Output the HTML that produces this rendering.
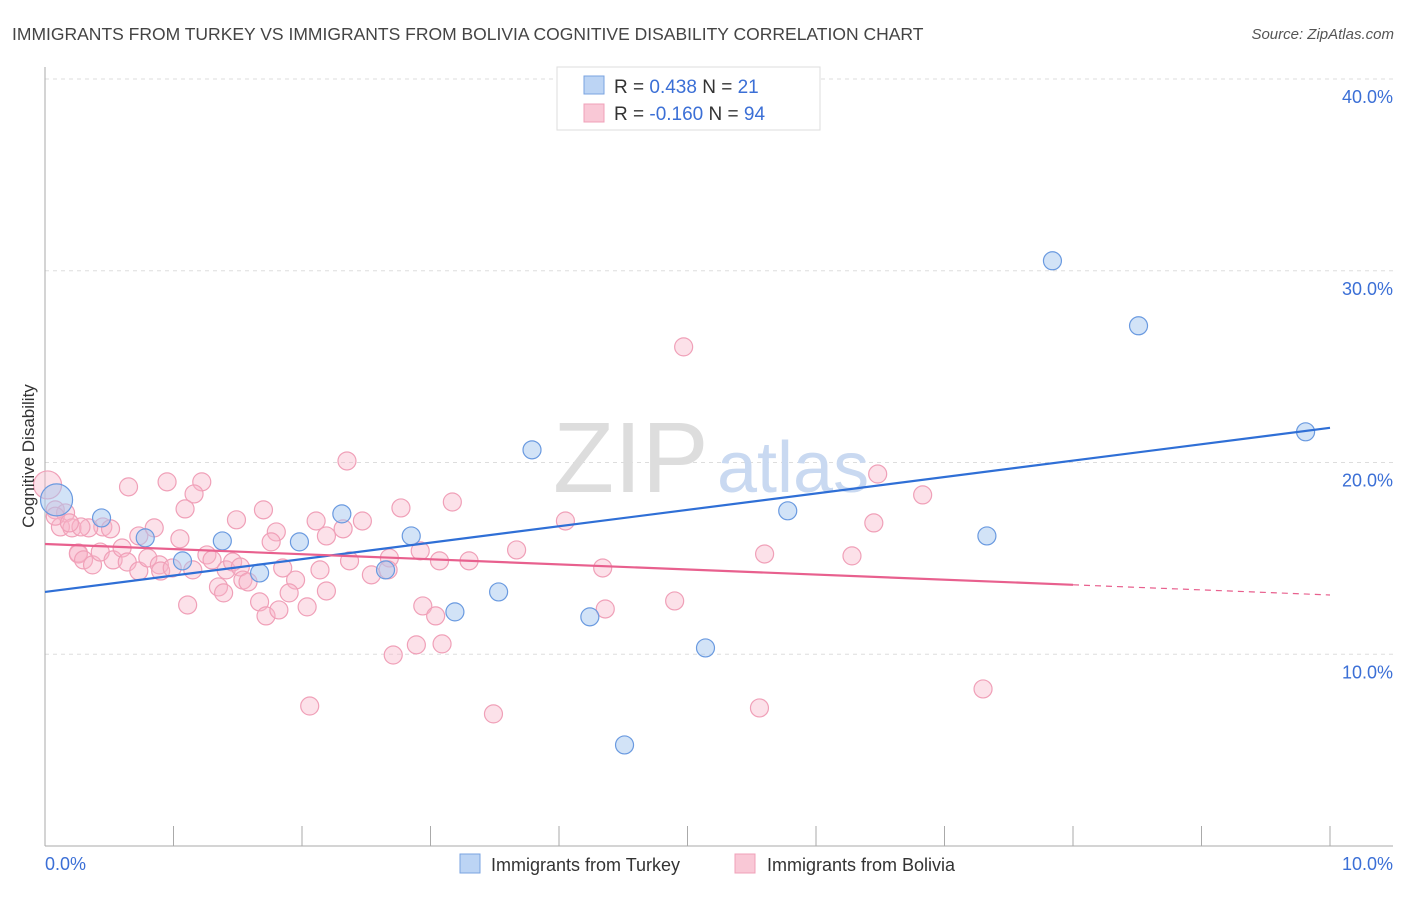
<!DOCTYPE html>
<html><head><meta charset="utf-8"><style>
body{margin:0;background:#fff;font-family:"Liberation Sans",sans-serif;}
svg text{font-family:"Liberation Sans",sans-serif;}
</style></head><body>
<svg width="1406" height="892" xmlns="http://www.w3.org/2000/svg">
<text x="12" y="40" font-size="17.5" fill="#444">IMMIGRANTS FROM TURKEY VS IMMIGRANTS FROM BOLIVIA COGNITIVE DISABILITY CORRELATION CHART</text>
<text x="1394" y="39" font-size="15" fill="#555" font-style="italic" text-anchor="end">Source: ZipAtlas.com</text>
<g id="grid"></g>
<g>
<text x="553" y="492" font-size="100" fill="#ddd" font-family="Liberation Serif">ZIP</text>
<text x="717" y="492" font-size="72" fill="#c9d9f1">atlas</text>
</g>
<g id="points"></g>
<g id="lines"></g>
<g>
<rect x="557" y="67" width="263" height="63" fill="#fff" stroke="#ddd"/>
<rect x="584" y="76" width="20" height="18" fill="#bcd4f4" stroke="#7aa3e0"/>
<rect x="584" y="104" width="20" height="18" fill="#f9c8d6" stroke="#f0a0b8"/>
<text x="614" y="93" font-size="19" fill="#333">R = <tspan fill="#3b6fd6"> 0.438</tspan>   N = <tspan fill="#3b6fd6"> 21</tspan></text>
<text x="614" y="120" font-size="19" fill="#333">R = <tspan fill="#3b6fd6">-0.160</tspan>   N = <tspan fill="#3b6fd6">94</tspan></text>
</g>
<text transform="translate(34,456) rotate(-90)" font-size="17" fill="#333" text-anchor="middle">Cognitive Disability</text>
<text x="45" y="870" font-size="18" fill="#3b6fd6">0.0%</text>
<text x="1393" y="870" font-size="18" fill="#3b6fd6" text-anchor="end">10.0%</text>
<g>
<rect x="460" y="854" width="20" height="19" fill="#bcd4f4" stroke="#7aa3e0"/>
<text x="491" y="871" font-size="18" fill="#333">Immigrants from Turkey</text>
<rect x="735" y="854" width="20" height="19" fill="#f9c8d6" stroke="#f0a0b8"/>
<text x="767" y="871" font-size="18" fill="#333">Immigrants from Bolivia</text>
</g>
</svg>
<script>
const yTicks=[10,20,30,40];
const yTickLabels=["10.0%","20.0%","30.0%","40.0%"];
const xTicks=[0,1,2,3,4,5,6,7,8,9,10];
const turkeyX=[0.09,0.44,0.78,1.07,1.38,1.67,1.98,2.31,2.65,2.85,3.19,3.53,3.79,4.24,4.51,5.14,5.78,7.33,7.84,8.51,9.81];
const turkeyY=[18.05,17.11,16.07,14.87,15.91,14.24,15.86,17.32,14.40,16.17,12.21,13.25,20.66,11.95,5.27,10.33,17.48,16.17,30.52,27.13,21.60];
const boliviaX=[0.02,0.08,0.16,0.12,0.21,0.26,0.65,0.95,1.22,1.16,1.09,0.45,0.51,0.34,0.28,0.73,0.85,1.05,1.49,1.70,1.80,1.76,2.11,2.19,2.32,2.47,2.35,2.77,3.17,0.26,0.30,0.37,0.43,0.53,0.60,0.64,0.73,0.80,0.89,0.90,0.99,1.15,1.26,1.30,1.41,1.46,1.52,1.54,1.58,1.85,1.95,2.14,2.37,2.54,2.68,2.67,2.92,3.07,3.30,1.35,1.39,1.67,1.72,1.82,1.90,2.04,2.19,1.11,2.94,3.04,2.89,3.09,2.71,2.06,3.49,3.67,4.05,4.34,4.36,4.90,4.97,5.60,5.56,6.28,6.45,6.48,6.83,7.30,0.08,0.19];
const boliviaY=[18.83,17.53,17.37,16.64,16.59,15.28,18.73,18.99,18.99,18.36,17.58,16.64,16.54,16.59,16.64,16.17,16.59,16.02,17.01,17.53,16.38,15.86,16.95,16.17,16.54,16.95,20.08,17.63,17.94,15.23,14.92,14.66,15.33,14.92,15.54,14.81,14.34,15.02,14.66,14.34,14.50,14.40,15.18,14.92,14.40,14.81,14.55,13.87,13.77,14.50,13.87,14.40,14.87,14.14,15.02,14.40,15.39,14.87,14.87,13.51,13.20,12.73,12.00,12.31,13.20,12.47,13.30,12.57,12.52,12.00,10.49,10.54,9.96,7.30,6.89,15.44,16.95,14.50,12.36,12.78,26.03,15.23,7.20,15.13,16.85,19.40,18.31,8.19,17.20,16.85];
const turkeyTrend=[13.25,21.81];
const boliviaTrend=[15.75,13.09];
const NS="http://www.w3.org/2000/svg";
const x0=45,x1=1330,yB=846,yT=79;
function sx(v){return x0+(v/10)*(x1-x0);}
function sy(v){return yB-(v/40)*(yB-yT);}
function mk(t,a){const e=document.createElementNS(NS,t);for(const k in a)e.setAttribute(k,a[k]);return e;}
const grid=document.getElementById('grid');
yTicks.forEach((t,i)=>{
 const l=mk('line',{x1:x0,x2:1393,y1:sy(t),y2:sy(t),stroke:'#ddd','stroke-dasharray':'4,4'});
 
 
 grid.appendChild(l);
 const tx=mk('text',{x:1393,y:sy(t)+24,'font-size':18,fill:'#3b6fd6','text-anchor':'end'});
 tx.textContent=yTickLabels[i];
 
 
 grid.appendChild(tx);
});
const ax=mk('line',{x1:x0,x2:x0,y1:67,y2:yB,stroke:'#aaa'});


grid.appendChild(ax);
const bx=mk('line',{x1:x0,x2:1393,y1:yB,y2:yB,stroke:'#aaa'});


grid.appendChild(bx);
xTicks.forEach(t=>{
 const l=mk('line',{x1:sx(t),x2:sx(t),y1:826,y2:yB,stroke:'#aaa'});
 
 
 grid.appendChild(l);
});
const pts=document.getElementById('points');
boliviaX.forEach((x,i)=>{
 const c=mk('circle',{cx:sx(x),cy:sy(boliviaY[i]),r:i==0?14:9,fill:'rgba(248,180,200,0.4)',stroke:'#f0a0b8','stroke-width':1.2});
 
 
 pts.appendChild(c);
});
turkeyX.forEach((x,i)=>{
 const c=mk('circle',{cx:sx(x),cy:sy(turkeyY[i]),r:i==0?16:9,fill:'rgba(165,200,240,0.5)',stroke:'#6a9ae0','stroke-width':1.2});
 
 
 pts.appendChild(c);
});
const lines=document.getElementById('lines');
const tl=mk('line',{x1:sx(0),y1:sy(turkeyTrend[0]),x2:sx(10),y2:sy(turkeyTrend[1]),stroke:'#2f6fd6','stroke-width':2.2});


lines.appendChild(tl);
const bm=boliviaTrend[0]+(boliviaTrend[1]-boliviaTrend[0])*0.8;
const bl=mk('line',{x1:sx(0),y1:sy(boliviaTrend[0]),x2:sx(8),y2:sy(bm),stroke:'#e8608e','stroke-width':2.2});


lines.appendChild(bl);
const bd=mk('line',{x1:sx(8),y1:sy(bm),x2:sx(10),y2:sy(boliviaTrend[1]),stroke:'#e8608e','stroke-width':1.2,'stroke-dasharray':'6,5'});


lines.appendChild(bd);
</script>
</body></html>
